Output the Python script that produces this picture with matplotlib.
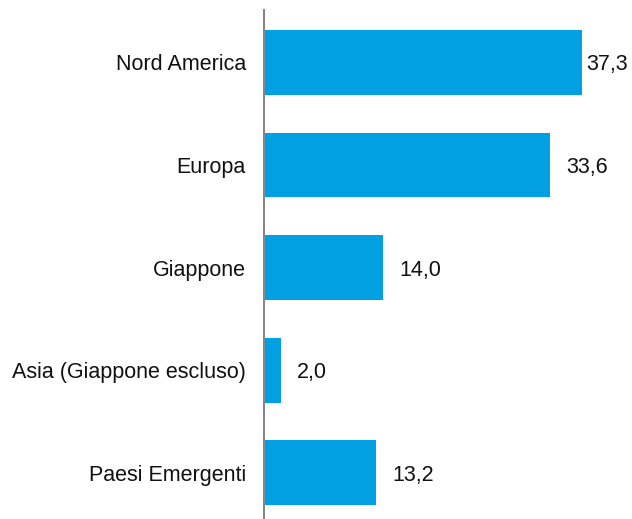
import matplotlib
matplotlib.use('Agg')
import matplotlib.pyplot as plt

regions = ['Nord America', 'Europa', 'Giappone', 'Asia (Giappone escluso)', 'Paesi Emergenti']
weights = [37.3, 33.6, 14.0, 2.0, 13.2]

plt.rcParams['font.family'] = ['Liberation Sans', 'DejaVu Sans']

fig = plt.figure(figsize=(6.32, 5.19), dpi=100)
ax = fig.add_axes([264 / 632, 0.0, 1 - 264 / 632, 1 - 10 / 519])

xmax = 368 / 8.52
pos = list(range(len(regions)))
ax.barh(pos, weights, height=0.63, color='#00A0E3', zorder=2)

# value labels, italian decimal comma; keep the longest one inside the figure
for y, v in zip(pos, weights):
    x = min(v + 1.9, xmax - 5.4)
    ax.text(x, y, f'{v:.1f}'.replace('.', ','), va='center_baseline', ha='left',
            fontsize=15.5, color='#111111')

ax.set_yticks(pos)
ax.set_yticklabels(regions, fontsize=15.5, color='#111111')
ax.tick_params(axis='y', length=0, pad=13)
ax.set_xticks([])
ax.set_xlim(0, xmax)
ax.set_ylim(4.45, -0.51)

for s in ['top', 'right', 'bottom']:
    ax.spines[s].set_visible(False)
ax.spines['left'].set_color('#888888')
ax.spines['left'].set_linewidth(1.5)

fig.savefig('out.png', dpi=100)
